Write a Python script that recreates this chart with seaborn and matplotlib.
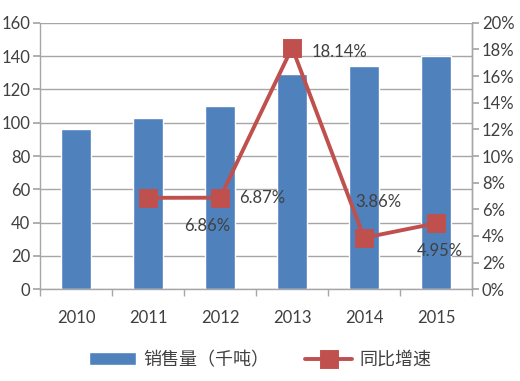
import matplotlib
matplotlib.use("Agg")
import matplotlib.pyplot as plt
import seaborn as sns
import pandas as pd
import numpy as np
from matplotlib.ticker import FuncFormatter, MultipleLocator, FixedLocator

years = ["2010", "2011", "2012", "2013", "2014", "2015"]
sales = [96, 103, 110, 129, 134, 140]
growth = [np.nan, 6.86, 6.87, 18.14, 3.86, 4.95]
growth_labels = ["", "6.86%", "6.87%", "18.14%", "3.86%", "4.95%"]
bar_name = "销售量（千吨）"
line_name = "同比增速"

sns.set_theme(style="white")
plt.rcParams['font.family'] = ['Lato', 'Noto Sans CJK SC', 'DejaVu Sans']

BLUE = "#4F81BD"
RED = "#C0504D"
GRID = "#A6A6A6"
TXT = "#404040"

df = pd.DataFrame({"year": years, "sales": sales, "growth": growth})

fig = plt.figure(figsize=(5.2, 3.81), dpi=100)
ax = fig.add_axes([0.077, 0.241, 0.831, 0.699])

sns.barplot(data=df, x="year", y="sales", order=years, color=BLUE,
            saturation=1, width=0.42, ax=ax, label=bar_name, zorder=2)
ax.set_ylim(0, 160)
ax.yaxis.set_major_locator(MultipleLocator(20))
ax.grid(axis="y", color=GRID, linewidth=1, zorder=0)
ax.set_axisbelow(True)
ax.set_xlabel("")
ax.set_ylabel("")
ax.set_xlim(-0.5, 5.5)

ax2 = ax.twinx()
sns.pointplot(data=df, x="year", y="growth", order=years, color=RED,
              markers="s", markersize=12, linewidth=2.8, ax=ax2, label=line_name)
ax2.set_ylim(0, 20)
ax2.yaxis.set_major_locator(MultipleLocator(2))
ax2.yaxis.set_major_formatter(FuncFormatter(lambda v, p: f"{v:.0f}%"))
ax2.set_ylabel("")
ax2.set_xlim(-0.5, 5.5)

for a in (ax, ax2):
    a.spines["top"].set_visible(False)
    for s in ["left", "right", "bottom"]:
        a.spines[s].set_color(GRID)
        a.spines[s].set_linewidth(1)
ax2.spines["left"].set_visible(False)
ax2.spines["bottom"].set_visible(False)

ax.tick_params(axis="y", left=True, length=5, color=GRID, labelsize=12, labelcolor=TXT, pad=2)
ax2.tick_params(axis="y", right=True, length=5, color=GRID, labelsize=12, labelcolor=TXT, pad=2)
ax.tick_params(axis="x", bottom=False, labelsize=12, labelcolor=TXT, pad=9)
ax.xaxis.set_minor_locator(FixedLocator(np.arange(-0.5, 6.0, 1.0)))
ax.tick_params(axis="x", which="minor", bottom=True, length=5, color=GRID)

offsets = {1: (26, -20, "left"), 2: (14, 0, "left"), 3: (14, -3, "left"),
           4: (10, 26, "center"), 5: (3, -20, "center")}
for i, lab in enumerate(growth_labels):
    if not lab:
        continue
    dx, dy, ha = offsets[i]
    ax2.annotate(lab, (i, growth[i]), xytext=(dx, dy), textcoords="offset points",
                 ha=ha, va="center", fontsize=12, color=TXT, zorder=5)

h1, l1 = ax.get_legend_handles_labels()
h2, l2 = ax2.get_legend_handles_labels()
for a in (ax, ax2):
    if a.get_legend():
        a.get_legend().remove()
fig.legend(h1 + h2, l1 + l2, loc="center", bbox_to_anchor=(0.5, 0.055), ncol=2,
           frameon=False, handlelength=2.6, handletextpad=0.4, columnspacing=2.0,
           labelcolor=TXT, prop={'family': ['Noto Sans CJK SC', 'DejaVu Sans'], 'size': 13})

fig.savefig("out.png", dpi=100)
